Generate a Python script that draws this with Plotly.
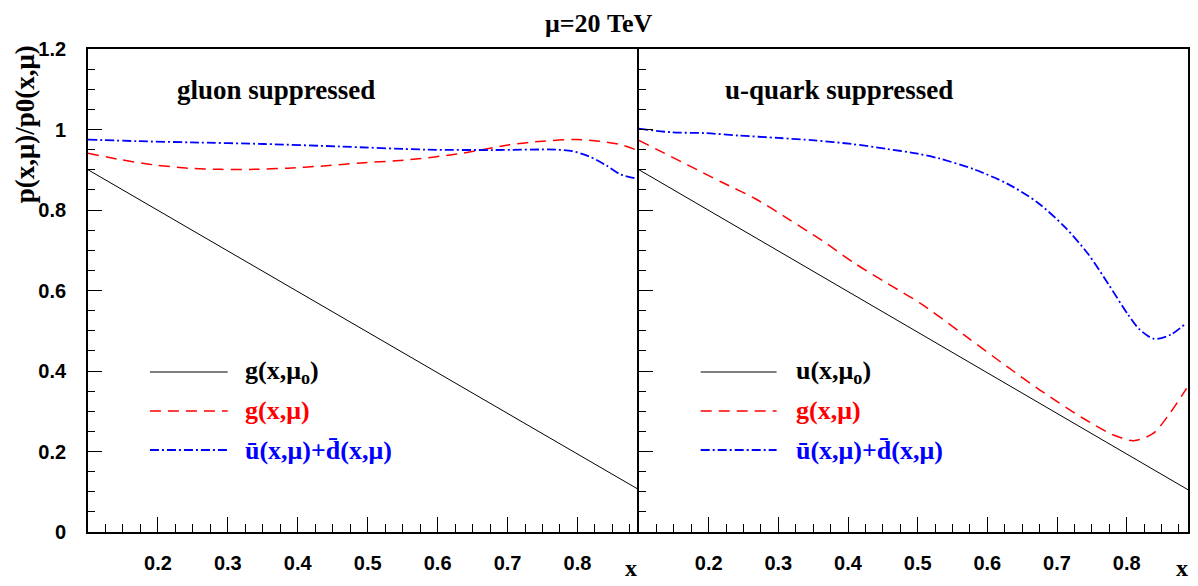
import plotly.graph_objects as go

# ---------------- data ----------------
x_black = [0.1, 0.888]
y_black = [0.9, 0.105]

x_left_red = [0.1, 0.147, 0.195, 0.243, 0.29, 0.338, 0.386, 0.433, 0.49, 0.56, 0.631,
              0.703, 0.75, 0.798, 0.831, 0.86, 0.886]
y_left_red = [0.941, 0.925, 0.912, 0.904, 0.901, 0.901, 0.904, 0.909, 0.917, 0.925, 0.94,
              0.962, 0.971, 0.975, 0.971, 0.963, 0.948]

x_left_blue = [0.1, 0.171, 0.247, 0.352, 0.457, 0.584, 0.679, 0.77, 0.793, 0.817, 0.841,
               0.862, 0.886]
y_left_blue = [0.975, 0.971, 0.968, 0.964, 0.958, 0.95, 0.949, 0.95, 0.946, 0.933, 0.911,
               0.888, 0.878]

x_right_red = [0.1, 0.124, 0.171, 0.219, 0.267, 0.314, 0.362, 0.41, 0.457, 0.504, 0.567,
               0.629, 0.676, 0.738, 0.781, 0.81, 0.838, 0.862, 0.886]
y_right_red = [0.973, 0.952, 0.911, 0.869, 0.828, 0.778, 0.725, 0.667, 0.617, 0.568, 0.489,
               0.41, 0.352, 0.282, 0.241, 0.227, 0.245, 0.295, 0.357]

x_right_blue = [0.1, 0.147, 0.195, 0.243, 0.3, 0.352, 0.405, 0.455, 0.5, 0.531, 0.581,
                0.629, 0.671, 0.711, 0.745, 0.774, 0.802, 0.818, 0.839, 0.863, 0.886]
y_right_blue = [1.002, 0.993, 0.991, 0.985, 0.979, 0.973, 0.964, 0.952, 0.94, 0.928, 0.901,
                0.865, 0.82, 0.758, 0.69, 0.615, 0.54, 0.504, 0.48, 0.49, 0.52]

x_tickvals = [0.2, 0.3, 0.4, 0.5, 0.6, 0.7, 0.8]
x_ticktext = ["0.2", "0.3", "0.4", "0.5", "0.6", "0.7", "0.8"]
y_tickvals = [0, 0.2, 0.4, 0.6, 0.8, 1.0, 1.2]
y_ticktext = ["0", "0.2", "0.4", "0.6", "0.8", "1", "1.2"]

panel_titles = ["gluon suppressed", "u-quark suppressed"]
legend_left = ["g(x,μ<sub>o</sub>)", "g(x,μ)", "ū(x,μ)+d̄(x,μ)"]
legend_right = ["u(x,μ<sub>o</sub>)", "g(x,μ)", "ū(x,μ)+d̄(x,μ)"]

# ---------------- styles ----------------
SERIF = "Liberation Serif"
SANS = "Liberation Sans"
BLACK = "#000000"
RED = "#ff0000"
BLUE = "#0000ff"
DASH_RED = "11px,7px"
DASH_BLUE = "9px,3px,2px,3px"
styles = [
    dict(color=BLACK, width=1, dash="solid"),
    dict(color=RED, width=1.5, dash=DASH_RED),
    dict(color=BLUE, width=1.8, dash=DASH_BLUE),
]

fig = go.Figure()

panels = [
    ("x", "y", [(x_black, y_black), (x_left_red, y_left_red), (x_left_blue, y_left_blue)]),
    ("x2", "y2", [(x_black, y_black), (x_right_red, y_right_red), (x_right_blue, y_right_blue)]),
]
for xa, ya, series in panels:
    for (xs, ys), st in zip(series, styles):
        fig.add_trace(go.Scatter(
            x=xs, y=ys, xaxis=xa, yaxis=ya, mode="lines",
            line=dict(color=st["color"], width=st["width"], dash=st["dash"],
                      shape="spline", smoothing=0.8),
            showlegend=False, hoverinfo="skip"))

split = 552 / 1102

xaxis_common = dict(
    range=[0.1, 0.888], showgrid=False, zeroline=False,
    showline=True, linecolor=BLACK, linewidth=1.5, mirror=True,
    ticks="inside", ticklen=15, tickwidth=1.2, tickcolor=BLACK,
    tickvals=x_tickvals, ticktext=x_ticktext,
    tickfont=dict(family=SANS, size=20, color=BLACK, weight="bold"),
    ticklabelstandoff=12,
    minor=dict(ticks="inside", ticklen=8, tickwidth=1.2, tickcolor=BLACK,
               dtick=0.025, tick0=0, showgrid=False),
)
yaxis_common = dict(
    range=[0, 1.2], showgrid=False, zeroline=False,
    showline=True, linecolor=BLACK, linewidth=1.8,
    ticks="inside", ticklen=14, tickwidth=1.2, tickcolor=BLACK,
    tickvals=y_tickvals, ticktext=y_ticktext,
    tickfont=dict(family=SANS, size=20, color=BLACK, weight="bold"),
    ticklabelstandoff=16,
    minor=dict(ticks="inside", ticklen=7, tickwidth=1.2, tickcolor=BLACK,
               dtick=0.05, tick0=0, showgrid=False),
)

# page body has an 8px margin: figure is shifted so the plot area lands where the reference has it
fig.update_layout(
    width=1190, height=578,
    margin=dict(l=80, r=8, t=41, b=54),
    paper_bgcolor="white", plot_bgcolor="white",
    xaxis=dict(xaxis_common, domain=[0, split], anchor="y"),
    xaxis2=dict(xaxis_common, domain=[split, 1], anchor="y2"),
    yaxis=dict(yaxis_common, domain=[0, 1], anchor="x", mirror=False),
    yaxis2=dict(yaxis_common, domain=[0, 1], anchor="x2", showticklabels=False, mirror=True),
    showlegend=False,
)

annotations = []
# title
annotations.append(dict(text="μ=20 TeV", xref="paper", yref="paper", x=0.4646, y=1.052,
                        xanchor="center", yanchor="middle", showarrow=False,
                        font=dict(family=SERIF, size=26, color=BLACK, weight="bold")))
# y title
annotations.append(dict(text="p(x,μ)/p0(x,μ)", xref="paper", yref="paper", x=-0.0572, y=1.012,
                        xanchor="center", yanchor="top", textangle=-90, showarrow=False,
                        font=dict(family=SERIF, size=27, color=BLACK, weight="bold")))
# x titles
for xp in [split, 1.002]:
    annotations.append(dict(text="x", xref="paper", yref="paper", x=xp, y=-0.0745,
                            xanchor="right", yanchor="middle", showarrow=False,
                            font=dict(family=SERIF, size=24, color=BLACK, weight="bold")))
# panel labels
for xp, t in zip([0.079, 0.577], panel_titles):
    annotations.append(dict(text=t, xref="paper", yref="paper", x=xp, y=0.915,
                            xanchor="left", yanchor="middle", showarrow=False,
                            font=dict(family=SERIF, size=27, color=BLACK, weight="bold")))

# legend keys and texts
row_y = [(532 - 372) / 483, (532 - 411) / 483, (532 - 450) / 483]
legend_cols = [(0.0563, 0.127, 0.1407, legend_left), (0.557, 0.626, 0.6416, legend_right)]
shapes = []
for x0, x1, xt, labels in legend_cols:
    for yy, st, lab in zip(row_y, styles, labels):
        shapes.append(dict(type="line", xref="paper", yref="paper", x0=x0, x1=x1, y0=yy, y1=yy,
                           line=dict(color=st["color"], width=st["width"], dash=st["dash"])))
        annotations.append(dict(text=lab, xref="paper", yref="paper", x=xt, y=yy,
                                xanchor="left", yanchor="middle", showarrow=False,
                                font=dict(family=SERIF, size=26, color=st["color"], weight="bold")))

fig.update_layout(annotations=annotations, shapes=shapes)

fig.write_html("out.html")
